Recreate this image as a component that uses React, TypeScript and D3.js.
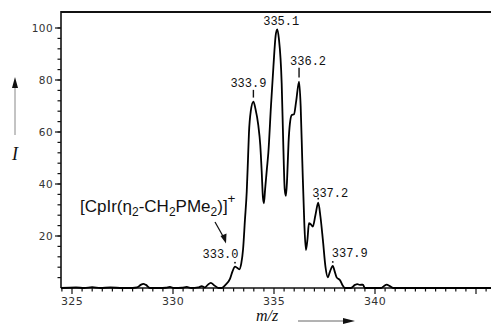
import * as d3 from "d3";

// spectrum trace
const mzValues = [
  324.45, 325.2, 325.6, 326.0, 326.4, 326.9, 327.5, 328.0, 328.22, 328.4, 328.53, 328.66, 328.86,
  329.3, 329.65, 329.85, 330.05, 330.45, 330.68, 330.9, 331.25, 331.42, 331.58, 331.72, 331.87,
  332.05, 332.25, 332.41, 332.6, 332.82, 332.95, 333.07, 333.17, 333.28, 333.38, 333.47, 333.56,
  333.65, 333.71, 333.76, 333.85, 333.98, 334.08, 334.22, 334.32, 334.39, 334.45, 334.5, 334.56,
  334.65, 334.72, 334.85, 334.97, 335.08, 335.16, 335.24, 335.38, 335.46, 335.53, 335.59, 335.65,
  335.72, 335.79, 335.88, 335.99, 336.1, 336.24, 336.32, 336.4, 336.5, 336.58, 336.66, 336.73,
  336.82, 336.92, 337.05, 337.19, 337.3, 337.42, 337.55, 337.66, 337.78, 337.91, 338.0, 338.1,
  338.27, 338.4, 338.51, 338.8, 339.01, 339.12, 339.25, 339.4, 339.5, 339.7, 340.3, 340.45,
  340.58, 340.72, 340.9, 342, 344, 345.75,
];
const intensityValues = [
  0, 0.2, 0, 0.3, 0, 0.2, 0, 0, 0.2, 1.2, 1.6, 1.2, 0,
  0, 0.1, 0.4, 0, 0.1, 0.4, 0, 0.2, 0.7, 0.2, 1.2, 2.0,
  1.0, 0, 0, 1.2, 3.5, 6.5, 8.2, 7.8, 7.2, 9.5, 15, 26,
  37, 49, 59.6, 68, 71.7, 69, 62.7, 55, 45, 35, 32.6, 38,
  46, 52, 70, 85, 97, 99.5, 96, 78.8, 55, 38, 35.4, 42,
  56, 63.4, 66.5, 66.8, 72, 79.4, 70, 49, 25, 14.6, 19, 24.9,
  24.5, 23.6, 28, 32.8, 27.4, 18.5, 8, 4.1, 6.5, 8.5, 6.5, 4.1,
  3, 1, 0, 0, 1.2, 1.5, 1.2, 1.3, 0, 0, 0, 0.8,
  1.3, 0.8, 0, 0, 0, 0,
];

const peakLabels = ["333.0", "333.9", "335.1", "336.2", "337.2", "337.9"];
const peakPositions = [333.07, 333.98, 335.16, 336.24, 337.19, 337.91];
const peakHeights = [8.2, 71.7, 99.5, 79.4, 32.8, 8.5];

const yTickValues = [20, 40, 60, 80, 100];
const xTickValues = [325, 330, 335, 340];

// label nudges in px: [dx, dy, marker type]
const labelLayout: [number, number, string][] = [
  [-14.5, -8.7, "dot"],
  [-5, -14.7, "bar"],
  [4, -4.3, "none"],
  [9, -16.7, "bar"],
  [12, -6, "dot"],
  [17, -9, "dot"],
];

export default function App() {
  const width = 491;
  const height = 325;
  const left = 61;
  const top = 12;
  const bottom = 288;

  const x = d3.scaleLinear().domain([325, 340]).range([72, 375]);
  const y = d3.scaleLinear().domain([0, 100]).range([bottom, 28]);

  const data = mzValues.map((m, i) => ({ m, v: intensityValues[i] }));
  const line = d3
    .line<{ m: number; v: number }>()
    .x((d) => x(d.m))
    .y((d) => y(d.v))
    .curve(d3.curveMonotoneX);

  const xMin = x.invert(left);
  const xMax = x.invert(width);
  const xMinor = d3.range(Math.ceil(xMin * 2) / 2, xMax, 0.5);
  const yMinor = d3.range(4, 101, 4);

  return (
    <svg
      width={width}
      height={height}
      style={{ position: "absolute", left: 0, top: 0, background: "#fff" }}
    >
      {/* frame */}
      <line x1={left} x2={width} y1={top} y2={top} stroke="#111" strokeWidth={2} />
      <line x1={left} x2={left} y1={top - 1} y2={bottom} stroke="#111" strokeWidth={1.6} />
      <line x1={left} x2={width} y1={bottom} y2={bottom} stroke="#111" strokeWidth={1.6} />

      {/* y ticks */}
      {yMinor.map((t) => (
        <line key={"ym" + t} x1={left - 3.5} x2={left} y1={y(t)} y2={y(t)} stroke="#111" strokeWidth={1.2} />
      ))}
      {yTickValues.map((t) => (
        <g key={"y" + t}>
          <line x1={left - 6} x2={left} y1={y(t)} y2={y(t)} stroke="#111" strokeWidth={1.2} />
          <text
            x={left - 8}
            y={y(t)}
            dy="0.36em"
            textAnchor="end"
            fontFamily="DejaVu Sans"
            fontSize={10.5}
            letterSpacing={0.4}
            fill="#333"
          >
            {t}
          </text>
        </g>
      ))}

      {/* x ticks */}
      {xMinor.map((t) => {
        const major = Math.abs(t % 5) < 1e-6;
        return (
          <line
            key={"xm" + t}
            x1={x(t)}
            x2={x(t)}
            y1={bottom}
            y2={bottom + (major ? 6 : 3.5)}
            stroke="#111"
            strokeWidth={1.2}
          />
        );
      })}
      {xTickValues.map((t) => (
        <text
          key={"x" + t}
          x={x(t)}
          y={305}
          textAnchor="middle"
          fontFamily="DejaVu Sans"
          fontSize={11}
          letterSpacing={0.4}
          fill="#333"
        >
          {t}
        </text>
      ))}

      {/* spectrum */}
      <path d={line(data) ?? ""} fill="none" stroke="#000" strokeWidth={1.8} strokeLinejoin="round" />

      {/* peak labels */}
      {peakLabels.map((lab, i) => {
        const px = x(peakPositions[i]);
        const py = y(peakHeights[i]);
        const [dx, dy, mark] = labelLayout[i];
        return (
          <g key={lab}>
            <text
              x={px + dx}
              y={py + dy}
              textAnchor="middle"
              fontFamily="Liberation Mono"
              fontSize={12}
              fill="#111"
            >
              {lab}
            </text>
            {mark === "bar" && (
              <line x1={px} x2={px} y1={py + dy + 3} y2={py - 4} stroke="#111" strokeWidth={1.4} />
            )}
            {mark === "dot" && <circle cx={px} cy={py - 4} r={0.9} fill="#111" />}
          </g>
        );
      })}

      {/* compound annotation */}
      <text x={80} y={212} fontFamily="Liberation Sans" fontSize={17} fill="#111">
        [CpIr(η
        <tspan fontSize={12} dy={4}>2</tspan>
        <tspan dy={-4}>-CH</tspan>
        <tspan fontSize={12} dy={4}>2</tspan>
        <tspan dy={-4}>PMe</tspan>
        <tspan fontSize={12} dy={4}>2</tspan>
        <tspan dy={-4}>)]</tspan>
        <tspan fontSize={13.5} dy={-9}>+</tspan>
      </text>
      <line x1={215} y1={222} x2={224} y2={238} stroke="#111" strokeWidth={1.3} />
      <path d="M 226 243.5 L 220.5 236 L 226.5 233.5 Z" fill="#111" />

      {/* axis titles */}
      <line x1={15} x2={15} y1={135} y2={86} stroke="#888" strokeWidth={1} />
      <path d="M 15 77 L 12 88 L 18 88 Z" fill="#111" />
      <text x={15} y={160} textAnchor="middle" fontFamily="Liberation Serif" fontStyle="italic" fontSize={18} fill="#111">
        I
      </text>

      <text x={267} y={321} textAnchor="middle" fontFamily="Liberation Serif" fontStyle="italic" fontSize={16} fill="#111">
        m/z
      </text>
      <line x1={298} x2={345} y1={321} y2={321} stroke="#666" strokeWidth={1} />
      <path d="M 355 321 L 343 318 L 343 324 Z" fill="#111" />
    </svg>
  );
}
